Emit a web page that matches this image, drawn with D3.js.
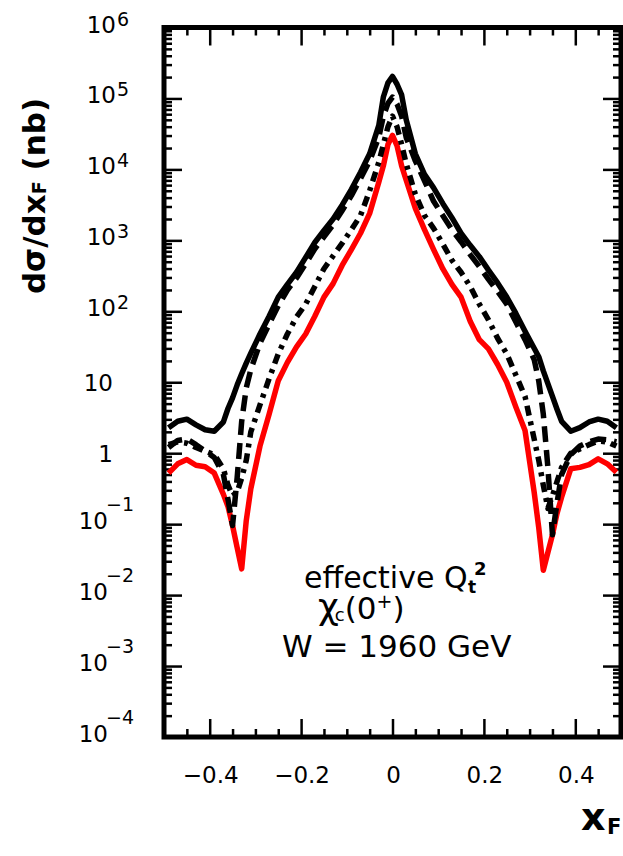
<!DOCTYPE html>
<html>
<head>
<meta charset="utf-8">
<script src="https://cdn.jsdelivr.net/npm/d3@7"></script>
<style>
body{margin:0;background:#fff;}
svg{display:block;}
text{font-family:"DejaVu Sans",Arial,Helvetica,sans-serif;fill:#000;}
</style>
</head>
<body>
<svg id="chart" width="623" height="856"></svg>
<script>
// x_F points of the curves
var xF = [-0.49,-0.47,-0.45,-0.43,-0.41,-0.39,-0.37,-0.36,-0.35,-0.34,-0.33,-0.32,-0.31,
	-0.29,-0.27,-0.25,-0.23,-0.21,-0.19,-0.17,-0.15,-0.13,-0.11,-0.09,-0.07,-0.05,-0.03,
	-0.02,-0.01,0,
	0.01,0.02,0.03,
	0.05,0.07,0.09,0.11,0.13,0.15,0.17,0.19,0.21,0.23,0.25,0.27,0.29,
	0.31,0.32,0.33,0.34,0.35,0.36,0.37,0.39,0.41,0.43,0.45,0.47,0.49];

// log10 of dsigma/dxF (nb)
var solidLog = [0.36,0.45,0.48,0.40,0.33,0.31,0.44,0.63,0.78,0.96,1.12,1.27,1.41,
	1.68,1.93,2.20,2.38,2.55,2.76,2.97,3.14,3.30,3.50,3.72,3.96,4.22,4.62,
	5.02,5.22,5.31,
	5.20,5.05,4.70,
	4.22,3.93,3.74,3.52,3.32,3.10,2.93,2.77,2.58,2.40,2.20,1.97,1.72,
	1.48,1.36,1.16,0.98,0.80,0.62,0.45,0.31,0.36,0.44,0.48,0.45,0.36];

var dashedLog = [0.08,0.18,0.20,0.12,0.03,-0.06,-0.30,-0.65,-1.02,-0.35,0.45,0.92,1.18,
	1.55,1.82,2.08,2.30,2.47,2.67,2.88,3.05,3.22,3.42,3.63,3.87,4.12,4.45,
	4.75,4.93,5.02,
	4.92,4.75,4.45,
	4.12,3.84,3.55,3.35,3.15,2.98,2.80,2.63,2.45,2.28,2.10,1.85,1.60,
	1.32,1.02,0.55,-0.20,-1.15,-0.70,-0.30,-0.02,0.10,0.16,0.20,0.19,0.16];

var dashdotLog = [0.12,0.16,0.14,0.08,0.03,-0.02,-0.22,-0.45,-0.60,-0.55,-0.35,-0.10,0.30,
	0.68,1.05,1.40,1.68,1.92,2.10,2.35,2.60,2.78,2.96,3.15,3.35,3.70,4.10,
	4.35,4.60,4.75,
	4.60,4.35,4.08,
	3.65,3.35,3.17,2.95,2.72,2.55,2.35,2.10,1.88,1.62,1.40,1.10,0.80,
	0.20,-0.10,-0.45,-0.78,-0.60,-0.40,-0.20,0.00,0.06,0.12,0.17,0.16,0.10];

var redLog = [-0.28,-0.15,-0.09,-0.17,-0.19,-0.28,-0.58,-0.75,-1.02,-1.33,-1.63,-0.95,-0.50,
	0.10,0.55,1.02,1.28,1.50,1.68,1.93,2.20,2.39,2.65,2.87,3.10,3.38,3.82,
	4.05,4.35,4.48,
	4.33,4.05,3.85,
	3.45,3.15,2.87,2.60,2.38,2.20,1.86,1.60,1.47,1.25,1.00,0.65,0.32,
	-0.55,-1.05,-1.65,-1.40,-1.15,-0.85,-0.62,-0.22,-0.20,-0.16,-0.08,-0.15,-0.27];

var xMajor = [-0.4,-0.2,0,0.2,0.4];
var xTickLabels = ["\u22120.4","\u22120.2","0","0.2","0.4"];
var xMinor = [-0.45,-0.35,-0.3,-0.25,-0.15,-0.1,-0.05,0.05,0.1,0.15,0.25,0.3,0.35,0.45];
var yExps = [-4,-3,-2,-1,0,1,2,3,4,5,6];

var frameL = 164, frameR = 621, frameT = 27.5, frameB = 737;
var svg = d3.select("#chart");

var x = d3.scaleLinear().domain([-0.5,0.5]).range([frameL,frameR]);
var y = d3.scaleLog().domain([1e-4,1e6]).range([frameB,frameT]);

var yMajor = yExps.map(function(e){ return Math.pow(10,e); });
var yMinor = [];
for(var e=-4;e<6;e++){
	for(var m=2;m<10;m++){
		yMinor.push(m*Math.pow(10,e));
	}
}

function ticks(axis, pos, vals, size){
	var g = svg.append("g")
		.attr("transform", pos)
		.call(axis.tickValues(vals).tickSize(-size).tickFormat(""));
	g.select(".domain").remove();
	g.selectAll("line").attr("stroke","#000").attr("stroke-width",2.5);
}
ticks(d3.axisBottom(x), "translate(0,"+frameB+")", xMajor, 18);
ticks(d3.axisBottom(x), "translate(0,"+frameB+")", xMinor, 8);
ticks(d3.axisTop(x), "translate(0,"+frameT+")", xMajor, 18);
ticks(d3.axisTop(x), "translate(0,"+frameT+")", xMinor, 8);
ticks(d3.axisLeft(y), "translate("+frameL+",0)", yMajor, 18);
ticks(d3.axisLeft(y), "translate("+frameL+",0)", yMinor, 8);
ticks(d3.axisRight(y), "translate("+frameR+",0)", yMajor, 18);
ticks(d3.axisRight(y), "translate("+frameR+",0)", yMinor, 8);

// curves
var line = d3.line()
	.x(function(d){ return x(d[0]); })
	.y(function(d){ return y(d[1]); });

function pts(logs){
	return xF.map(function(v,i){ return [v, Math.pow(10, logs[i])]; });
}

var series = [
	{vals: redLog, color: "#ff0000", dash: null},
	{vals: solidLog, color: "#000", dash: null},
	{vals: dashedLog, color: "#000", dash: "16,8"},
	{vals: dashdotLog, color: "#000", dash: "10,6,4,6"}
];
series.forEach(function(s){
	svg.append("path")
		.datum(pts(s.vals))
		.attr("d", line)
		.attr("fill","none")
		.attr("stroke", s.color)
		.attr("stroke-width", 5.5)
		.attr("stroke-linejoin","round")
		.attr("stroke-dasharray", s.dash);
});

// frame
svg.append("rect")
	.attr("x",frameL).attr("y",frameT)
	.attr("width",frameR-frameL).attr("height",frameB-frameT)
	.attr("fill","none").attr("stroke","#000").attr("stroke-width",5);

// x tick labels
svg.selectAll(".xl").data(xMajor).enter().append("text")
	.attr("x", function(d){ return x(d)+1; })
	.attr("y", 783)
	.attr("text-anchor","middle")
	.style("font-size","23px")
	.text(function(d,i){ return xTickLabels[i]; });

// y tick labels
yExps.forEach(function(e){
	var ty = y(Math.pow(10,e));
	if(e == 0 || e == 1){
		svg.append("text")
			.attr("x",113).attr("y",ty+9)
			.attr("text-anchor","end")
			.style("font-size","23px")
			.text(e == 0 ? "1" : "10");
		return;
	}
	var neg = e < 0;
	svg.append("text")
		.attr("x", neg ? 108 : 116).attr("y", ty+5)
		.attr("text-anchor","end")
		.style("font-size","23px")
		.text("10");
	svg.append("text")
		.attr("x", neg ? 106 : 117).attr("y", neg ? ty-13 : ty-2)
		.style("font-size","19px")
		.text(neg ? "\u2212" + (-e) : String(e));
});

// axis titles
var yt = svg.append("text")
	.attr("transform","translate(45,196) rotate(-90)")
	.attr("text-anchor","middle")
	.style("font-size","31px").style("font-weight","bold");
yt.append("tspan").text("d\u03c3/dx");
yt.append("tspan").style("font-size","19px").attr("dy",1).text("F");
yt.append("tspan").attr("dy",-1).text(" (nb)");

svg.append("text").attr("x",581).attr("y",830)
	.style("font-size","38px").style("font-weight","bold").text("x");
svg.append("text").attr("x",607).attr("y",834)
	.style("font-size","21px").style("font-weight","bold").text("F");

// annotation
svg.append("text").attr("x",304).attr("y",588)
	.style("font-size","30px").text("effective Q");
svg.append("text").attr("x",468).attr("y",593)
	.style("font-size","17px").style("font-weight","bold").text("t");
svg.append("text").attr("x",474).attr("y",575)
	.style("font-size","18px").style("font-weight","bold").text("2");

var chi = svg.append("text").attr("x",318).attr("y",619).style("font-size","31px");
chi.append("tspan").style("font-size","36px").text("\u03c7");
chi.append("tspan").style("font-size","18px").attr("dy",2).attr("dx",-4).text("c");
chi.append("tspan").attr("dy",-2).text("(0");
chi.append("tspan").style("font-size","19px").attr("dy",-11).text("+");
chi.append("tspan").attr("dy",11).text(")");

svg.append("text").attr("x",282).attr("y",657)
	.style("font-size","31px").text("W = 1960 GeV");
</script>
</body>
</html>
